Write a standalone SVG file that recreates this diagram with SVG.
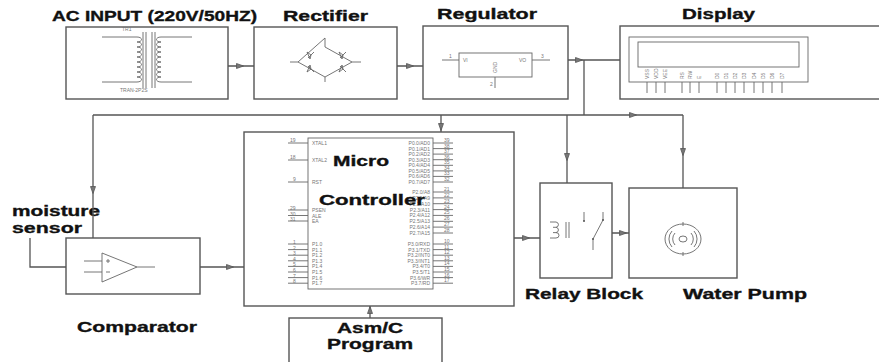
<svg xmlns="http://www.w3.org/2000/svg" width="879" height="362" viewBox="0 0 879 362">
<style>
.box{fill:none;stroke:#555;stroke-width:1.4}
.ln{fill:none;stroke:#555;stroke-width:1.3}
.thin{fill:none;stroke:#666;stroke-width:0.9}
.t{font-family:"Liberation Sans",Arial,sans-serif;font-weight:bold;font-size:15px;fill:#111;stroke:#111;stroke-width:0.35}
.s{font-family:"Liberation Sans",Arial,sans-serif;font-size:5px;fill:#777}
.sr{font-family:"Liberation Sans",Arial,sans-serif;font-size:5px;fill:#777;text-anchor:end}
</style>
<defs>
<g id="arr"><polygon points="-3.5,-2.5 3.5,0 -3.5,2.5" fill="#777" stroke="#555" stroke-width="0.8"/></g>
</defs>
<rect width="879" height="362" fill="#fff"/>

<g id="transformer">
<rect class="box" x="66" y="27" width="162" height="72"/>
<text class="t" x="52" y="21" textLength="205" lengthAdjust="spacingAndGlyphs">AC INPUT (220V/50HZ)</text>
<text class="s" x="122" y="31">TR1</text>
<text class="s" x="120" y="92">TRAN-2P2S</text>
<path class="thin" d="M102,37 H137 M102,82 H137 M137,37 c6,0 6,5 0,5 c6,0 6,5 0,5 c6,0 6,5 0,5 c6,0 6,5 0,5 c6,0 6,5 0,5 c6,0 6,5 0,5 c6,0 6,5 0,5 c6,0 6,5 0,5 c6,0 6,5 0,5"/>
<path class="thin" d="M143,32 V88 M146,32 V88 M152,32 V88 M155,32 V88"/>
<path class="thin" d="M192,37 H161 M192,82 H161 M161,37 c-6,0 -6,5 0,5 c-6,0 -6,5 0,5 c-6,0 -6,5 0,5 c-6,0 -6,5 0,5 c-6,0 -6,5 0,5 c-6,0 -6,5 0,5 c-6,0 -6,5 0,5 c-6,0 -6,5 0,5 c-6,0 -6,5 0,5"/>
</g>

<g id="rectifier">
<rect class="box" x="254" y="27" width="143" height="72"/>
<text class="t" x="283" y="21" textLength="85" lengthAdjust="spacingAndGlyphs">Rectifier</text>
<path class="thin" d="M325,38 V47 L352,62 L325,77 L298,62 Z M325,77 V82 M290,62 H298 M352,62 H361"/>
<path class="thin" d="M307,52 l4,3 l-1,4 z M308,58 l6,-6 M339,52 l4,3 l-1,4 z M340,58 l6,-6 M307,72 l4,-3 l-1,-4 z M308,66 l6,6 M339,72 l4,-3 l-1,-4 z M340,66 l6,6"/>
</g>

<g id="regulator">
<rect class="box" x="423" y="26" width="145" height="73"/>
<text class="t" x="437" y="19" textLength="100" lengthAdjust="spacingAndGlyphs">Regulator</text>
<rect class="thin" x="459" y="53" width="73" height="24"/>
<path class="thin" d="M442,60 H459 M532,60 H550 M495,77 V88"/>
<text class="s" x="449" y="58">1</text>
<text class="s" x="541" y="58">3</text>
<text class="s" x="490" y="86">2</text>
<text class="s" x="463" y="62">VI</text>
<text class="s" x="519" y="62">VO</text>
<text class="s" transform="translate(497,73) rotate(-90)">GND</text>
</g>

<g id="display">
<rect class="box" x="620" y="26" width="270" height="73"/>
<text class="t" x="682" y="19" textLength="73" lengthAdjust="spacingAndGlyphs">Display</text>
<rect class="thin" x="629" y="37" width="179" height="45"/>
<rect class="thin" x="638" y="42" width="161" height="25"/>
<path class="thin" d="M647,82 V93 M656,82 V93 M665,82 V93 M682,82 V93 M690,82 V93 M699,82 V93 M717,82 V93 M726,82 V93 M735,82 V93 M744,82 V93 M754,82 V93 M763,82 V93 M772,82 V93 M782,82 V93"/>
<g font-size="4">
<text class="s" transform="translate(649,79) rotate(-90)">VSS</text>
<text class="s" transform="translate(658,79) rotate(-90)">VDD</text>
<text class="s" transform="translate(667,79) rotate(-90)">VEE</text>
<text class="s" transform="translate(684,79) rotate(-90)">RS</text>
<text class="s" transform="translate(692,79) rotate(-90)">RW</text>
<text class="s" transform="translate(701,79) rotate(-90)">E</text>
<text class="s" transform="translate(719,79) rotate(-90)">D0</text>
<text class="s" transform="translate(728,79) rotate(-90)">D1</text>
<text class="s" transform="translate(737,79) rotate(-90)">D2</text>
<text class="s" transform="translate(746,79) rotate(-90)">D3</text>
<text class="s" transform="translate(756,79) rotate(-90)">D4</text>
<text class="s" transform="translate(765,79) rotate(-90)">D5</text>
<text class="s" transform="translate(774,79) rotate(-90)">D6</text>
<text class="s" transform="translate(784,79) rotate(-90)">D7</text>
</g>
</g>

<g id="comparator">
<rect class="box" x="66" y="238" width="134" height="56"/>
<text class="t" x="12" y="216" textLength="88" lengthAdjust="spacingAndGlyphs">moisture</text>
<text class="t" x="12" y="233" textLength="70" lengthAdjust="spacingAndGlyphs">sensor</text>
<text class="t" x="77" y="332" textLength="120" lengthAdjust="spacingAndGlyphs">Comparator</text>
<path class="thin" d="M102,253 L137,267 L102,282 Z M84,261 H102 M84,272 H102 M137,267 H155"/>
<path class="thin" d="M106,261 h4 M108,259 v4 M106,272 h4"/>
</g>

<g id="microcontroller">
<rect class="box" x="244" y="132" width="270" height="174"/>
<rect class="thin" x="308" y="138" width="125" height="151"/>
<path class="thin" d="M288,143 H308 M288,160 H308 M288,182 H308 M288,210 H308 M288,215.5 H308 M288,221 H308 M288,244 H308 M288,249.6 H308 M288,255.2 H308 M288,260.8 H308 M288,266.4 H308 M288,272 H308 M288,277.6 H308 M288,283.2 H308"/>
<path class="thin" d="M433,143 H453 M433,148.6 H453 M433,154.1 H453 M433,159.7 H453 M433,165.3 H453 M433,170.9 H453 M433,176.4 H453 M433,182 H453 M433,192 H453 M433,197.9 H453 M433,203.7 H453 M433,209.6 H453 M433,215.4 H453 M433,221.3 H453 M433,227.1 H453 M433,233 H453 M433,244 H453 M433,249.6 H453 M433,255.2 H453 M433,260.8 H453 M433,266.4 H453 M433,272 H453 M433,277.6 H453 M433,283.2 H453"/>
<text class="s" x="290" y="142">19</text><text class="s" x="290" y="159">18</text><text class="s" x="293" y="181">9</text>
<text class="s" x="290" y="210">29</text><text class="s" x="290" y="215.5">30</text><text class="s" x="290" y="221">31</text>
<text class="s" x="293" y="244">1</text><text class="s" x="293" y="249.6">2</text><text class="s" x="293" y="255.2">3</text><text class="s" x="293" y="260.8">4</text><text class="s" x="293" y="266.4">5</text><text class="s" x="293" y="272">6</text><text class="s" x="293" y="277.6">7</text><text class="s" x="293" y="283.2">8</text>
<text class="s" x="312" y="145">XTAL1</text><text class="s" x="312" y="162">XTAL2</text><text class="s" x="312" y="184">RST</text>
<text class="s" x="312" y="212">PSEN</text><text class="s" x="312" y="217.5">ALE</text><text class="s" x="312" y="223">EA</text>
<text class="s" x="312" y="246">P1.0</text><text class="s" x="312" y="251.6">P1.1</text><text class="s" x="312" y="257.2">P1.2</text><text class="s" x="312" y="262.8">P1.3</text><text class="s" x="312" y="268.4">P1.4</text><text class="s" x="312" y="274">P1.5</text><text class="s" x="312" y="279.6">P1.6</text><text class="s" x="312" y="285.2">P1.7</text>
<text class="sr" x="430" y="145">P0.0/AD0</text><text class="sr" x="430" y="150.6">P0.1/AD1</text><text class="sr" x="430" y="156.1">P0.2/AD2</text><text class="sr" x="430" y="161.7">P0.3/AD3</text><text class="sr" x="430" y="167.3">P0.4/AD4</text><text class="sr" x="430" y="172.9">P0.5/AD5</text><text class="sr" x="430" y="178.4">P0.6/AD6</text><text class="sr" x="430" y="184">P0.7/AD7</text>
<text class="sr" x="430" y="194">P2.0/A8</text><text class="sr" x="430" y="199.9">P2.1/A9</text><text class="sr" x="430" y="205.7">P2.2/A10</text><text class="sr" x="430" y="211.6">P2.3/A11</text><text class="sr" x="430" y="217.4">P2.4/A12</text><text class="sr" x="430" y="223.3">P2.5/A13</text><text class="sr" x="430" y="229.1">P2.6/A14</text><text class="sr" x="430" y="235">P2.7/A15</text>
<text class="sr" x="430" y="246">P3.0/RXD</text><text class="sr" x="430" y="251.6">P3.1/TXD</text><text class="sr" x="430" y="257.2">P3.2/INT0</text><text class="sr" x="430" y="262.8">P3.3/INT1</text><text class="sr" x="430" y="268.4">P3.4/T0</text><text class="sr" x="430" y="274">P3.5/T1</text><text class="sr" x="430" y="279.6">P3.6/WR</text><text class="sr" x="430" y="285.2">P3.7/RD</text>
<text class="s" x="444" y="142">39</text><text class="s" x="444" y="147.6">38</text><text class="s" x="444" y="153.1">37</text><text class="s" x="444" y="158.7">36</text><text class="s" x="444" y="164.3">35</text><text class="s" x="444" y="169.9">34</text><text class="s" x="444" y="175.4">33</text><text class="s" x="444" y="181">32</text>
<text class="s" x="444" y="191">21</text><text class="s" x="444" y="196.9">22</text><text class="s" x="444" y="202.7">23</text><text class="s" x="444" y="208.6">24</text><text class="s" x="444" y="214.4">25</text><text class="s" x="444" y="220.3">26</text><text class="s" x="444" y="226.1">27</text><text class="s" x="444" y="232">28</text>
<text class="s" x="444" y="243">10</text><text class="s" x="444" y="248.6">11</text><text class="s" x="444" y="254.2">12</text><text class="s" x="444" y="259.8">13</text><text class="s" x="444" y="265.4">14</text><text class="s" x="444" y="271">15</text><text class="s" x="444" y="276.6">16</text><text class="s" x="444" y="282.2">17</text>
<text class="t" x="333" y="166" font-size="16" textLength="56" lengthAdjust="spacingAndGlyphs">Micro</text>
<text class="t" x="319" y="205" font-size="16" textLength="106" lengthAdjust="spacingAndGlyphs">Controller</text>
</g>

<g id="program">
<rect class="box" x="289" y="318" width="153" height="50"/>
<text class="t" x="337" y="333" textLength="66" lengthAdjust="spacingAndGlyphs">Asm/C</text>
<text class="t" x="327" y="349" textLength="86" lengthAdjust="spacingAndGlyphs">Program</text>
</g>

<g id="relay">
<rect class="box" x="540" y="183" width="72" height="95"/>
<text class="t" x="525" y="299" textLength="118" lengthAdjust="spacingAndGlyphs">Relay Block</text>
<path class="thin" d="M550,222 H556 a3,2.7 0 0 1 0,5.3 H553 M556,227.3 a3,2.7 0 0 1 0,5.3 H553 M556,232.6 a3,2.7 0 0 1 0,5.4 H550"/>
<path class="thin" d="M566,222 V238 M569,222 V238"/>
<path class="thin" d="M584,212 V221 M603,212 V220 L593,239 V250"/>
<circle cx="584" cy="221" r="1" fill="#555"/>
<circle cx="603" cy="220" r="1" fill="#555"/>
<circle cx="593" cy="239" r="1" fill="#555"/>
</g>

<g id="pump">
<rect class="box" x="629" y="188" width="108" height="90"/>
<text class="t" x="683" y="299" textLength="124" lengthAdjust="spacingAndGlyphs">Water Pump</text>
<ellipse class="thin" cx="683" cy="239" rx="18" ry="15" stroke-width="1.1"/>
<ellipse class="thin" cx="683" cy="239" rx="4" ry="3"/>
<path class="thin" d="M683,222 V226 M683,252 V256 M675,233 a9,9 0 0 0 0,12 M672,231 a12,12 0 0 0 0,16 M691,233 a9,9 0 0 1 0,12 M694,231 a12,12 0 0 1 0,16" stroke="#999"/>
</g>

<g id="connectors">
<path class="ln" d="M228,66 H254 M397,66 H423 M568,60 H620 M584,60 V115 M93,115 H683 M93,115 V238 M441,115 V132 M567,115 V183 M683,115 V188 M30,238 V267 H66 M200,267 H244 M514,238 H540 M612,233 H629 M370,318 V306"/>
<use href="#arr" transform="translate(240,66)"/>
<use href="#arr" transform="translate(410,66)"/>
<use href="#arr" transform="translate(579,60)"/>
<use href="#arr" transform="translate(633,115)"/>
<use href="#arr" transform="translate(93,190) rotate(90)"/>
<use href="#arr" transform="translate(441,127) rotate(90)"/>
<use href="#arr" transform="translate(567,157) rotate(90)"/>
<use href="#arr" transform="translate(683,152) rotate(90)"/>
<use href="#arr" transform="translate(230,267)"/>
<use href="#arr" transform="translate(526,238)"/>
<use href="#arr" transform="translate(623,233)"/>
<use href="#arr" transform="translate(370,310) rotate(-90)"/>
</g>
</svg>
